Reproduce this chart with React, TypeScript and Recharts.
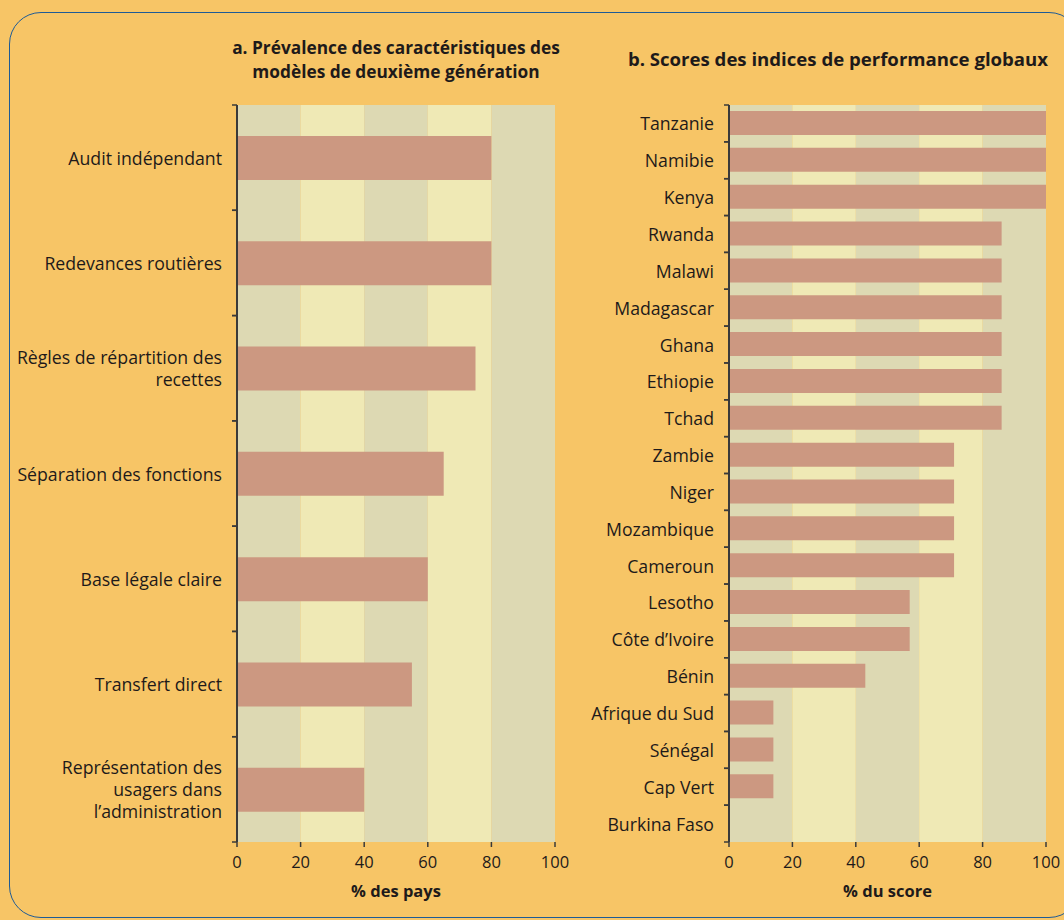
import React from 'react';
import { BarChart, Bar, XAxis, YAxis, ReferenceArea } from 'recharts';

const featureNames = [
  'Audit indépendant',
  'Redevances routières',
  'Règles de répartition des\nrecettes',
  'Séparation des fonctions',
  'Base légale claire',
  'Transfert direct',
  'Représentation des\nusagers dans\nl\u2019administration',
];
const featureValues = [80, 80, 75, 65, 60, 55, 40];

const countryNames = [
  'Tanzanie', 'Namibie', 'Kenya', 'Rwanda', 'Malawi', 'Madagascar', 'Ghana', 'Ethiopie', 'Tchad',
  'Zambie', 'Niger', 'Mozambique', 'Cameroun', 'Lesotho', 'Côte d\u2019Ivoire', 'Bénin',
  'Afrique du Sud', 'Sénégal', 'Cap Vert', 'Burkina Faso',
];
const countryValues = [100, 100, 100, 86, 86, 86, 86, 86, 86, 71, 71, 71, 71, 57, 57, 43, 14, 14, 14, 0];

const xTicks = [0, 20, 40, 60, 80, 100];
const stripes = [
  { x1: 0, x2: 20, fill: '#DDD9B3' },
  { x1: 20, x2: 40, fill: '#EFE9B5' },
  { x1: 40, x2: 60, fill: '#DDD9B3' },
  { x1: 60, x2: 80, fill: '#EFE9B5' },
  { x1: 80, x2: 100, fill: '#DDD9B3' },
];

const featureData = featureNames.map((name, i) => ({ name, value: featureValues[i] }));
const countryData = countryNames.map((name, i) => ({ name, value: countryValues[i] }));

const FONT = '"Open Sans", sans-serif';
const TEXT = '#1E1A1A';
const BAR = '#CC9881';
const AXIS = '#3A3A3A';
const BG = '#F7C566';

const TICK_SIZE = 5;
const TICK_MARGIN = 10;
const LABEL_SIZE = 17.7;

function CatTick(props: any) {
  const { x, y, payload } = props;
  const lines = String(payload.value).split('\n');
  const off = payload.offset ?? 0;
  const axisX = x + TICK_SIZE + TICK_MARGIN;
  const lh = 22;
  const startDy = -((lines.length - 1) / 2) * lh;
  return (
    <g>
      <line x1={axisX - TICK_SIZE} x2={axisX} y1={y - off} y2={y - off} stroke={AXIS} strokeWidth={1.5} />
      <line x1={axisX - TICK_SIZE} x2={axisX} y1={y + off} y2={y + off} stroke={AXIS} strokeWidth={1.5} />
      <text x={x} y={y + startDy} textAnchor="end" fontFamily={FONT} fontSize={LABEL_SIZE} fill={TEXT} dominantBaseline="central">
        {lines.map((l, i) => (
          <tspan key={i} x={x} dy={i === 0 ? 0 : lh}>{l}</tspan>
        ))}
      </text>
    </g>
  );
}

function Panel(props: { data: any[]; width: number; yWidth: number; right: number; barSize: number; xLabel: string }) {
  const { data, width, yWidth, right, barSize, xLabel } = props;
  return (
    <BarChart
      width={width}
      height={920}
      data={data}
      layout="vertical"
      margin={{ top: 105, right, left: 0, bottom: 0 }}
      style={{ fontFamily: FONT }}
    >
      {stripes.map((s, i) => (
        <ReferenceArea key={i} x1={s.x1} x2={s.x2} fill={s.fill} fillOpacity={1} stroke="none" ifOverflow="visible" />
      ))}
      <XAxis
        type="number"
        domain={[0, 100]}
        ticks={xTicks}
        height={78}
        axisLine={false}
        tickLine={{ stroke: AXIS, strokeWidth: 1.5 }}
        tickSize={5}
        tickMargin={9}
        tick={{ fontSize: 16.5, fill: TEXT, fontFamily: FONT }}
        label={{ value: xLabel, position: 'insideBottom', offset: 23, fontSize: 16.5, fontWeight: 'bold', fill: TEXT, fontFamily: FONT }}
      />
      <YAxis
        type="category"
        dataKey="name"
        width={yWidth}
        axisLine={{ stroke: AXIS, strokeWidth: 2 }}
        tickLine={{ stroke: 'transparent' }}
        tickSize={TICK_SIZE}
        tickMargin={TICK_MARGIN}
        interval={0}
        tick={<CatTick />}
      />
      <Bar dataKey="value" fill={BAR} barSize={barSize} isAnimationActive={false} />
    </BarChart>
  );
}

export default function App() {
  return (
    <div style={{ position: 'absolute', left: 0, top: 0, width: 1064, height: 920, overflow: 'hidden', background: BG, fontFamily: FONT }}>
      <div style={{ position: 'absolute', left: 9, top: 12, width: 1070, height: 904, border: '1.5px solid #1E5B96', borderRadius: 32 }} />
      <div style={{ position: 'absolute', left: 176, top: 36, width: 440, textAlign: 'center', fontWeight: 'bold', fontSize: 17.3, lineHeight: '24px', color: TEXT }}>
        a. Prévalence des caractéristiques des<br />modèles de deuxième génération
      </div>
      <div style={{ position: 'absolute', left: 588, top: 47, width: 500, textAlign: 'center', fontWeight: 'bold', fontSize: 18.6, lineHeight: '24px', color: TEXT }}>
        b. Scores des indices de performance globaux
      </div>
      <div style={{ position: 'absolute', left: 0, top: 0 }}>
        <Panel data={featureData} width={580} yWidth={237} right={25} barSize={44} xLabel="% des pays" />
      </div>
      <div style={{ position: 'absolute', left: 580, top: 0 }}>
        <Panel data={countryData} width={484} yWidth={149} right={18} barSize={24} xLabel="% du score" />
      </div>
    </div>
  );
}
